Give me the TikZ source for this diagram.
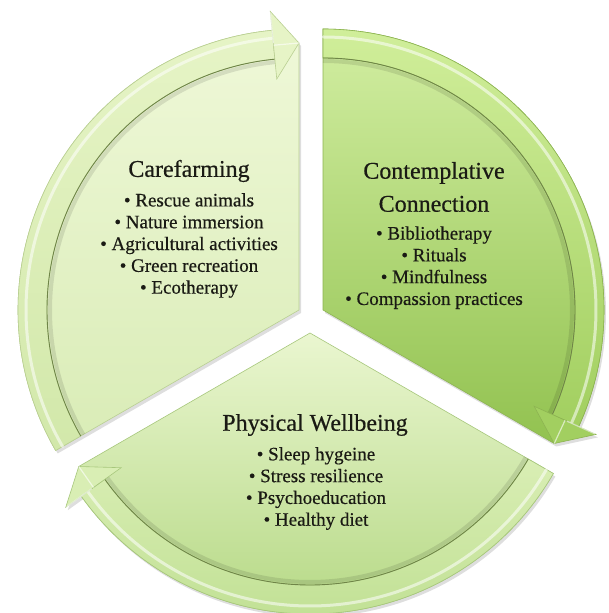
\documentclass[tikz,border=0pt]{standalone}
\usepackage{fontspec}
\setmainfont{Liberation Serif}[RawFeature={embolden=0.5}]
\usetikzlibrary{calc}
\definecolor{txt}{HTML}{1A1A14}
\definecolor{edgec}{HTML}{6F8548}
\tikzset{
  title/.style={font=\fontsize{24}{33}\selectfont, text=txt, align=center, inner sep=0pt},
  items/.style={font=\fontsize{19}{21.8}\selectfont, text=txt, align=center, inner sep=0pt},
  shadowfill/.style={fill=black, opacity=0.13},
  innerline/.style={draw=edgec, line width=0.9pt},
  softline/.style={draw=black, opacity=0.10, line width=4pt},
  gloss/.style={draw=white, opacity=0.55, line width=3pt, line cap=round},
  ridge/.style={draw=white, opacity=0.6, line width=1.2pt},
  bodyTL/.style={top color=tlTop, bottom color=tlBot, draw=tlEdge, line width=0.6pt},
  rimTL/.style={top color=tlRimA, bottom color=tlRimB, draw=tlEdge, line width=0.6pt},
  headTL/.style={fill=tlRimA, draw=tlEdge, line width=0.6pt},
  bodyR/.style={top color=rTop, bottom color=rBot, draw=rEdge, line width=0.6pt},
  rimR/.style={top color=rRimA, bottom color=rRimB, draw=rEdge, line width=0.6pt},
  headR/.style={fill=rRimB, draw=rEdge, line width=0.6pt},
  bodyB/.style={top color=bTop, bottom color=bBot, draw=bEdge, line width=0.6pt},
  rimB/.style={top color=bRimA, bottom color=bRimB, draw=bEdge, line width=0.6pt},
  headB/.style={fill=bRimA, draw=bEdge, line width=0.6pt},
}
\definecolor{tlTop}{HTML}{EFF8D8}
\definecolor{tlBot}{HTML}{D9ECB6}
\definecolor{tlRimA}{HTML}{E6F4C6}
\definecolor{tlRimB}{HTML}{D2E8AA}
\definecolor{tlEdge}{HTML}{B9CF92}
\definecolor{rTop}{HTML}{D2EEA2}
\definecolor{rBot}{HTML}{92C250}
\definecolor{rRimA}{HTML}{D0EE9A}
\definecolor{rRimB}{HTML}{A2CF60}
\definecolor{rEdge}{HTML}{8DB452}
\definecolor{bTop}{HTML}{EAF6D0}
\definecolor{bBot}{HTML}{B6D986}
\definecolor{bRimA}{HTML}{D9EEB4}
\definecolor{bRimB}{HTML}{C2E196}
\definecolor{bEdge}{HTML}{A7C77C}
% #1 apex, #2 tail angle, #3 head-base angle, #4 head angle, #5 suffix
\newcommand\sectorpiece[5]{%
  \path[shadowfill] ($(#1)+(2pt,-3pt)$) -- ($(#1)+(2pt,-3pt)+(#2:281pt)$)
    arc[start angle=#2, end angle=#3, radius=281pt]
    -- ($(#1)+(2pt,-3pt)+(#3:300pt)$) -- ($(#1)+(2pt,-3pt)+(#4:267pt)$) -- cycle;
  \path[body#5] (#1) -- ($(#1)+(#2:281pt)$)
    arc[start angle=#2, end angle=#3, radius=281pt] -- ($(#1)+(#4:267pt)$) -- cycle;
  \path[softline] ($(#1)+(#2:249pt)$) arc[start angle=#2, end angle=#3, radius=249pt];
  \path[rim#5] ($(#1)+(#2:281pt)$) arc[start angle=#2, end angle=#3, radius=281pt]
    -- ($(#1)+(#3:252pt)$) arc[start angle=#3, end angle=#2, radius=252pt] -- cycle;
  \path[innerline] ($(#1)+(#2:252pt)$) arc[start angle=#2, end angle=#3, radius=252pt];
  \path[gloss] ($(#1)+(#2:273pt)$) arc[start angle=#2, end angle=#3, radius=273pt];
  \path[head#5] ($(#1)+(#3:300pt)$) -- ($(#1)+(#4:267pt)$) -- ($(#1)+(#3:232pt)$) -- cycle;
  \path[ridge] ($(#1)+(#3:266pt)$) -- ($(#1)+(#4:267pt)$);
  \path[ridge] ($(#1)+(#3:299pt)$) -- ($(#1)+(#3:268pt)$);
}
\begin{document}
\begin{tikzpicture}[x=1pt, y=1pt]
  \useasboundingbox[fill=white] (0,0) rectangle (608,613);
  \coordinate (aTL) at (299,303);
  \coordinate (aR) at (323,303);
  \coordinate (aB) at (310,280);

  \sectorpiece{aTL}{210}{95.5}{90}{TL}
  \sectorpiece{aR}{90}{-24.5}{-30}{R}
  \sectorpiece{aB}{-30}{-144.5}{-150}{B}

  \node[title] (cf) at (189,442) {Carefarming};
  \node[items] (cfl) at (189,367.5) {• Rescue animals\\• Nature immersion\\• Agricultural activities\\• Green recreation\\• Ecotherapy};

  \node[title] (cc) at (434,426) {Contemplative\\Connection};
  \node[items] (ccl) at (434,345.3) {• Bibliotherapy\\• Rituals\\• Mindfulness\\• Compassion practices};

  \node[title] (pw) at (315,188) {Physical Wellbeing};
  \node[items] (pwl) at (316,124.5) {• Sleep hygeine\\• Stress resilience\\• Psychoeducation\\• Healthy diet};
\end{tikzpicture}
\end{document}
